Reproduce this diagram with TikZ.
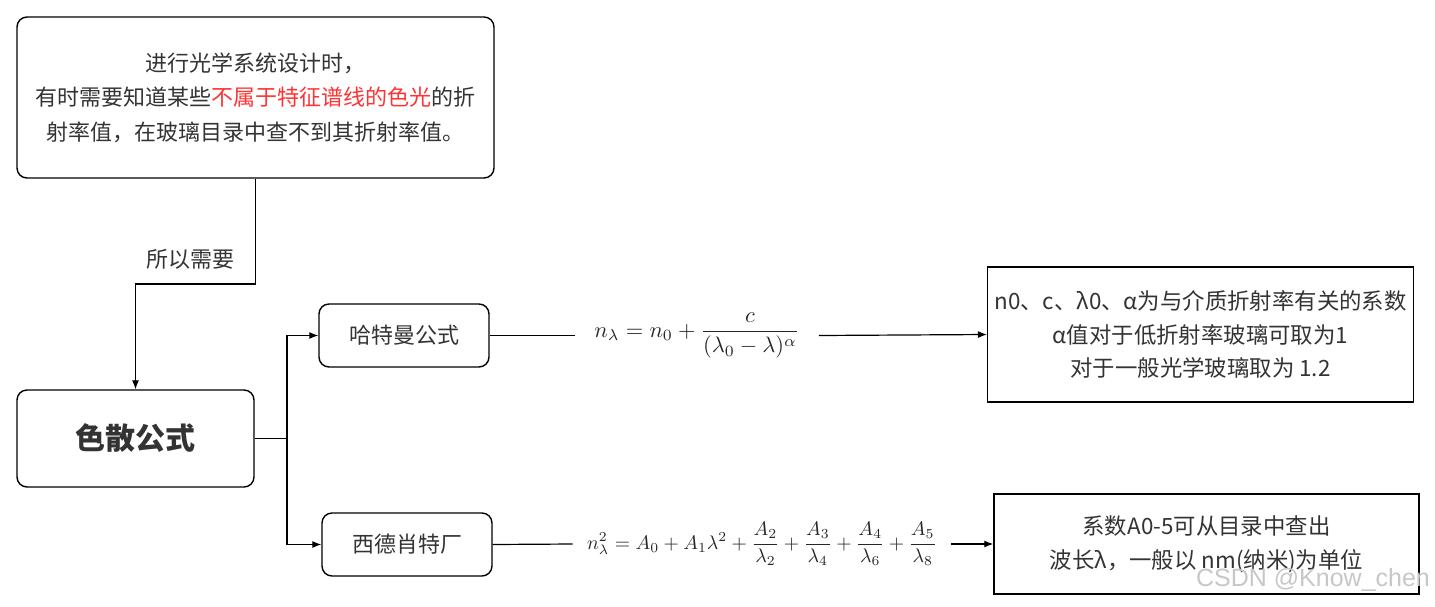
\documentclass[tikz,border=0pt]{standalone}
\usepackage{fontspec}
\setmainfont{Noto Sans CJK SC}
\newfontfamily\markfont{Liberation Sans}
\usepackage{tikz}
\usetikzlibrary{arrows.meta}

\begin{document}
\begin{tikzpicture}[x=0.5pt, y=-0.5pt,
		roundbox/.style={draw, line width=0.7pt, rounded corners=5pt, align=center, text=black!80},
		plainbox/.style={draw, line width=0.7pt, align=center, text=black!80},
		arr/.style={line width=0.6pt, -{Latex[length=4.5pt,width=3.5pt]}},
		conn/.style={line width=0.6pt}]
		%%%%% START %%%%%
		
		\useasboundingbox (0, 0) rectangle (1435, 606);
		
		\node[roundbox, minimum width=238.5pt, minimum height=80.5pt, font=\fontsize{11pt}{17.25pt}\selectfont] (cause) at (255.5, 97.5) {进行光学系统设计时，\\有时需要知道某些\textcolor{red!80}{不属于特征谱线的色光}的折\\射率值，在玻璃目录中查不到其折射率值。};
		
		\node[roundbox, minimum width=118.5pt, minimum height=48.5pt, font=\fontsize{15pt}{18pt}\selectfont\bfseries] (disp) at (135.5, 438.5) {色散公式};
		
		\node[roundbox, minimum width=85pt, minimum height=31.5pt, font=\fontsize{11pt}{13pt}\selectfont] (hart) at (404, 335.5) {哈特曼公式};
		\node[roundbox, minimum width=85pt, minimum height=31.5pt, font=\fontsize{11pt}{13pt}\selectfont] (sell) at (407, 544.5) {西德肖特厂};
		
		\node[inner xsep=9.5pt, text=black!85] (hform) at (697, 335.5) {\scalebox{1.12}{$\displaystyle n_\lambda = n_0 + \frac{c}{(\lambda_0 - \lambda)^\alpha}$}};
		\node[inner xsep=7pt, text=black!85] (sform) at (762, 544) {\scalebox{0.985}{$\displaystyle n_\lambda^2 = A_0 + A_1\lambda^2 + \frac{A_2}{\lambda_2} + \frac{A_3}{\lambda_4} + \frac{A_4}{\lambda_6} + \frac{A_5}{\lambda_8}$}};
		
		\node[plainbox, minimum width=212.5pt, minimum height=67.5pt, font=\fontsize{11.2pt}{16.75pt}\selectfont] (hnote) at (1200.5, 334.5) {n0、c、λ0、α为与介质折射率有关的系数\\α值对于低折射率玻璃可取为1\\对于一般光学玻璃取为 1.2};
		\node[plainbox, minimum width=212.5pt, minimum height=50pt, font=\fontsize{11.2pt}{17pt}\selectfont] (snote) at (1206.5, 544) {系数A0-5可从目录中查出\\波长λ，一般以 nm(纳米)为单位};
		
		\coordinate (turn) at (255.5, 284);
		\coordinate (fork) at (287, 438.5);
		
		\draw[arr] (cause.south) -- (turn) -| (disp.north);
		\node[text=black!80, font=\fontsize{11pt}{13pt}\selectfont] (sothat) at (190.5, 259) {所以需要};
		
		\draw[conn] (disp.east) -- (fork);
		\draw[arr] (fork) |- (hart.west);
		\draw[arr] (fork) |- (sell.west);
		
		\draw[conn] (hart.east) -- (hform.west);
		\draw[arr] (hform.east) -- (hnote.west);
		\draw[conn] (sell.east) -- (sform.west);
		\draw[arr] (sform.east) -- (snote.west);
		
		\node[text=black!22, font=\markfont\fontsize{12.5pt}{14pt}\selectfont] (mark) at (1313, 580) {CSDN @Know\_chen};
		
		%%%%% END %%%%%
	\end{tikzpicture}
\end{document}
